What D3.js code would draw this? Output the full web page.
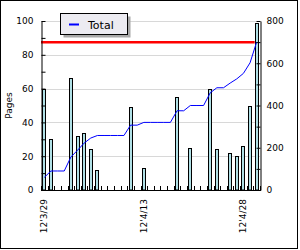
<!DOCTYPE html>
<html>
<head>
<meta charset="utf-8">
<script src="https://cdn.jsdelivr.net/npm/d3@7"></script>
<style>
  body { margin: 0; background: #fff; }
  text { font-family: "DejaVu Sans", sans-serif; }
</style>
</head>
<body>
<div id="chart"></div>
<script>
// days shown on the x axis (one slot each)
const days = ['3/29', '3/30', '3/31', '4/1', '4/2', '4/3', '4/4', '4/5', '4/6', '4/7', '4/8',
    '4/9', '4/10', '4/11', '4/12', '4/13', '4/14', '4/15', '4/16', '4/17', '4/18', '4/19',
    '4/20', '4/21', '4/22', '4/23', '4/24', '4/25', '4/26', '4/27', '4/28', '4/29', '4/30'];

// pages read per day (left axis)
const pages = [60, 30, 0, 0, 66, 32, 34, 24, 12, 0, 0, 0, 0, 49, 0, 13, 0, 0, 0, 0, 55, 0,
    25, 0, 0, 60, 24, 0, 22, 20, 26, 50, 99];

// running total (right axis)
const totals = [60, 90, 90, 90, 156, 188, 222, 246, 258, 258, 258, 258, 258, 307, 307, 320,
    320, 320, 320, 320, 375, 375, 400, 400, 400, 460, 484, 484, 506, 526, 552, 602, 701];

// target line on the right axis
const target = 700;

// labelled days
const tickDays = ['3/29', '4/13', '4/28'];
const tickPrefix = "12'";

const leftTicks = [0, 20, 40, 60, 80, 100];
const rightTicks = [0, 200, 400, 600, 800];

// plot box
const plotLeft = 41, plotRight = 260, plotTop = 21, plotBottom = 190;

const svg = d3.select('#chart').append('svg')
    .attr('width', 300)
    .attr('height', 250);

// outer frame
svg.append('rect')
    .attr('x', 0.5).attr('y', 0.5)
    .attr('width', 297).attr('height', 248)
    .attr('fill', '#fff')
    .attr('stroke', '#000');

// scales
const x = d3.scaleBand()
    .domain(days)
    .range([plotLeft, plotRight]);

const yLeft = d3.scaleLinear()
    .domain([0, 100])
    .range([plotBottom, plotTop]);

const yRight = d3.scaleLinear()
    .domain([0, 800])
    .range([plotBottom, plotTop]);

const cx = d => x(d) + x.bandwidth() / 2;

// grid lines
svg.append('g')
    .selectAll('line')
    .data(leftTicks.filter(d => d > 0))
    .enter().append('line')
    .attr('x1', plotLeft).attr('x2', plotRight)
    .attr('y1', d => Math.round(yLeft(d)) + 0.5)
    .attr('y2', d => Math.round(yLeft(d)) + 0.5)
    .attr('stroke', '#d8d8d8');

// bars
svg.append('g')
    .selectAll('rect')
    .data(days.map((d, i) => ({ day: d, v: pages[i] })).filter(d => d.v > 0))
    .enter().append('rect')
    .attr('x', d => Math.round(cx(d.day)) - 1.5)
    .attr('y', d => Math.round(yLeft(d.v)) + 0.5)
    .attr('width', 3)
    .attr('height', d => plotBottom - Math.round(yLeft(d.v)) - 0.5)
    .attr('fill', '#b0e0e6')
    .attr('stroke', '#000')
    .attr('stroke-width', 1);

// target line
svg.append('line')
    .attr('x1', plotLeft).attr('x2', cx(days[days.length - 1]) - 2)
    .attr('y1', yRight(target)).attr('y2', yRight(target))
    .attr('stroke', '#ff0000')
    .attr('stroke-width', 2.5);

// running total line
const line = d3.line()
    .x((d, i) => cx(days[i]))
    .y(d => yRight(d));

svg.append('path')
    .datum(totals)
    .attr('d', line)
    .attr('fill', 'none')
    .attr('stroke', '#0000ff')
    .attr('stroke-width', 1);

// left axis, ticks point inward
const leftAxis = svg.append('g')
    .attr('transform', 'translate(' + (plotLeft + 0.5) + ',0)')
    .call(d3.axisLeft(yLeft).tickValues(d3.range(0, 101, 10)).tickSizeInner(-4).tickSizeOuter(0)
        .tickFormat(d => leftTicks.includes(d) ? d : ''));
leftAxis.selectAll('text').attr('x', -8).attr('font-size', 9).attr('fill', '#000')
    .style('font-family', '"DejaVu Sans", sans-serif');

// right axis
const rightAxis = svg.append('g')
    .attr('transform', 'translate(' + (plotRight + 0.5) + ',0)')
    .call(d3.axisRight(yRight).tickValues(d3.range(0, 801, 100)).tickSizeInner(-4).tickSizeOuter(0)
        .tickFormat(d => rightTicks.includes(d) ? d : ''));
rightAxis.selectAll('text').attr('x', 6).attr('font-size', 9).attr('fill', '#000')
    .style('font-family', '"DejaVu Sans", sans-serif');

// bottom axis, a tick at every slot edge
const edges = days.map(d => x(d)).concat([plotRight]);
svg.append('line')
    .attr('x1', plotLeft).attr('x2', plotRight + 1)
    .attr('y1', plotBottom + 0.5).attr('y2', plotBottom + 0.5)
    .attr('stroke', '#000');
svg.append('g')
    .selectAll('line')
    .data(edges)
    .enter().append('line')
    .attr('x1', d => Math.round(d) + 0.5).attr('x2', d => Math.round(d) + 0.5)
    .attr('y1', plotBottom).attr('y2', plotBottom - 4)
    .attr('stroke', '#000');

// date labels
svg.append('g')
    .selectAll('text')
    .data(tickDays)
    .enter().append('text')
    .attr('transform', d => 'translate(' + (cx(d) + 3) + ',' + (plotBottom + 9) + ') rotate(-90)')
    .attr('text-anchor', 'end')
    .attr('font-size', 9)
    .text(d => tickPrefix + d);

// y axis title
svg.append('text')
    .attr('transform', 'translate(12,' + ((plotTop + plotBottom) / 2) + ') rotate(-90)')
    .attr('text-anchor', 'middle')
    .attr('font-size', 9)
    .text('Pages');

// legend with drop shadow
const legend = svg.append('g');
legend.append('rect')
    .attr('x', 63.5).attr('y', 16.5).attr('width', 67).attr('height', 21)
    .attr('fill', '#a8a8a8');
legend.append('rect')
    .attr('x', 60.5).attr('y', 13.5).attr('width', 67).attr('height', 21)
    .attr('fill', '#ecebf1')
    .attr('stroke', '#000');
legend.append('line')
    .attr('x1', 69).attr('x2', 79)
    .attr('y1', 24.5).attr('y2', 24.5)
    .attr('stroke', '#0000ff')
    .attr('stroke-width', 2);
legend.append('text')
    .attr('x', 88).attr('y', 28.5)
    .attr('font-size', 11)
    .text('Total');
</script>
</body>
</html>
